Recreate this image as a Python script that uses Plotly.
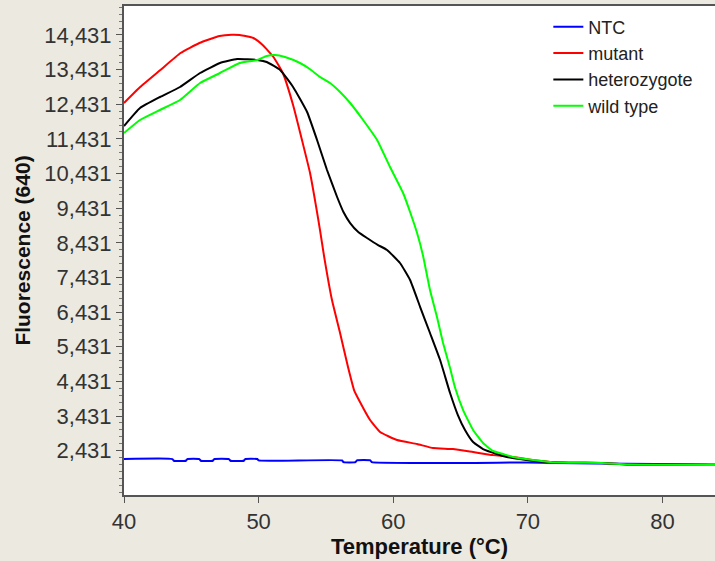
import plotly.graph_objects as go

# ---- data ----
ntc_t = [40, 43.6, 43.7, 44.6, 44.7, 45.6, 45.7, 46.6, 46.7, 47.8, 47.9, 48.9, 49.0, 49.9, 50.0,
         56.2, 56.3, 57.2, 57.3, 58.3, 58.4, 70, 72, 75, 84]
ntc_f = [2190, 2190, 2140, 2140, 2190, 2190, 2140, 2140, 2190, 2190, 2140, 2140, 2190, 2190, 2150,
         2150, 2100, 2100, 2150, 2150, 2100, 2090, 2075, 2060, 2030]

mut_t = [40, 41.2, 42.7, 44.2, 45.6, 47.1, 48.0, 48.6, 49.6, 50.3, 51.1, 51.8, 52.56, 53.22, 53.82,
         54.26, 54.56, 54.86, 55.45, 56.05, 56.64, 57.09, 57.53, 58.28, 59.02, 60.28, 61.77, 62.96,
         64.44, 65.93, 67.41, 68.9, 70.39, 71.65, 73, 75.5, 77.5, 84]
mut_f = [12470, 12930, 13420, 13911, 14200, 14402, 14440, 14431, 14344, 14142, 13796, 13334, 12410,
         11400, 10447, 9500, 8800, 8050, 6780, 5828, 4846, 4182, 3836, 3316, 2970, 2739, 2623, 2508,
         2479, 2393, 2306, 2248, 2162, 2104, 2085, 2075, 2030, 2020]

het_t = [40, 41.19, 42.67, 44.16, 45.65, 47.13, 48.4, 49.9, 50.6, 51.6, 52.56, 53.6, 54.34, 55.08,
         55.83, 56.3, 56.8, 57.4, 58.05, 58.87, 59.54, 60.5, 61.25, 62.0, 62.73, 63.48, 64.22, 64.8,
         65.33, 65.93, 66.67, 67.7, 68.45, 69.4, 70.5, 71.65, 73, 75.5, 77.5, 84]
het_f = [11804, 12324, 12641, 12930, 13334, 13623, 13738, 13709, 13652, 13420, 12930, 12208, 11400,
         10534, 9754, 9321, 9003, 8744, 8571, 8368, 8224, 7849, 7358, 6578, 5828, 5048, 4096, 3460,
         3028, 2681, 2479, 2335, 2248, 2190, 2133, 2104, 2085, 2075, 2030, 2020]

wt_t = [40, 41.19, 42.67, 44.16, 45.65, 47.13, 48.6, 49.9, 50.6, 51.2, 51.96, 53.07, 53.8, 54.56,
        55.3, 56.05, 56.8, 57.76, 58.8, 59.76, 60.73, 61.25, 61.77, 62.2, 62.73, 63.25, 63.7, 64.22,
        64.6, 65.19, 65.93, 66.67, 67.41, 68.16, 68.9, 70.39, 71.65, 73, 75.5, 77.5, 84]
wt_f = [11602, 11977, 12266, 12555, 13045, 13334, 13623, 13709, 13825, 13854, 13796, 13623, 13449,
        13218, 13045, 12786, 12468, 11977, 11400, 10620, 9870, 9321, 8715, 8080, 7069, 6290, 5539,
        4817, 4240, 3605, 3028, 2652, 2422, 2335, 2248, 2162, 2104, 2085, 2075, 2030, 2020]

series_names = ["NTC", "mutant", "heterozygote", "wild type"]
series_colors = ["#0000FF", "#FF0000", "#000000", "#00FF00"]

x_ticks = [40, 50, 60, 70, 80]
y_ticks = [2431, 3431, 4431, 5431, 6431, 7431, 8431, 9431, 10431, 11431, 12431, 13431, 14431]
y_tick_labels = ["2,431", "3,431", "4,431", "5,431", "6,431", "7,431", "8,431", "9,431",
                 "10,431", "11,431", "12,431", "13,431", "14,431"]

FONT = "Liberation Sans, Arial, sans-serif"

fig = go.Figure()
for name, color, xs, ys in zip(series_names, series_colors,
                               [ntc_t, mut_t, het_t, wt_t], [ntc_f, mut_f, het_f, wt_f]):
    fig.add_trace(go.Scatter(x=xs, y=ys, mode="lines", name=name,
                             line=dict(color=color, width=2, shape="spline", smoothing=0.4)))

fig.update_layout(
    width=715, height=561,
    margin=dict(l=124, r=0, t=6, b=66),
    paper_bgcolor="#ECE9E0",
    plot_bgcolor="#FFFFFF",
    font=dict(family=FONT, color="#333333"),
    showlegend=True,
    legend=dict(x=0.718, y=0.995, xanchor="left", yanchor="top",
                bgcolor="rgba(0,0,0,0)", font=dict(size=18, color="#222222", family=FONT),
                itemwidth=30, tracegroupgap=0),
)
fig.update_xaxes(
    range=[40, 83.9], tickvals=x_ticks, ticktext=[str(v) for v in x_ticks],
    showgrid=False, zeroline=False,
    showline=True, linecolor="#555555", linewidth=2, mirror=True,
    ticks="outside", ticklen=6, tickcolor="#555555",
    tickfont=dict(size=22, color="#333333"),
    title=dict(text="<b>Temperature (°C)</b>", font=dict(size=22, color="#111111"), standoff=4),
)
fig.update_yaxes(
    range=[1152, 15268], tickvals=y_ticks, ticktext=y_tick_labels,
    showgrid=False, zeroline=False,
    showline=True, linecolor="#555555", linewidth=2, mirror=False,
    ticks="outside", ticklen=6, tickcolor="#555555",
    minor=dict(ticks="outside", ticklen=3, tickcolor="#777777", dtick=200, tick0=2431),
    tickfont=dict(size=22, color="#333333"),
    title=dict(text="<b>Fluorescence (640)</b>", font=dict(size=21, color="#111111"), standoff=8),
)
fig.write_html("out.html", config={"displayModeBar": False},
               post_script="document.body.style.margin='0';document.body.style.overflow='hidden';")
